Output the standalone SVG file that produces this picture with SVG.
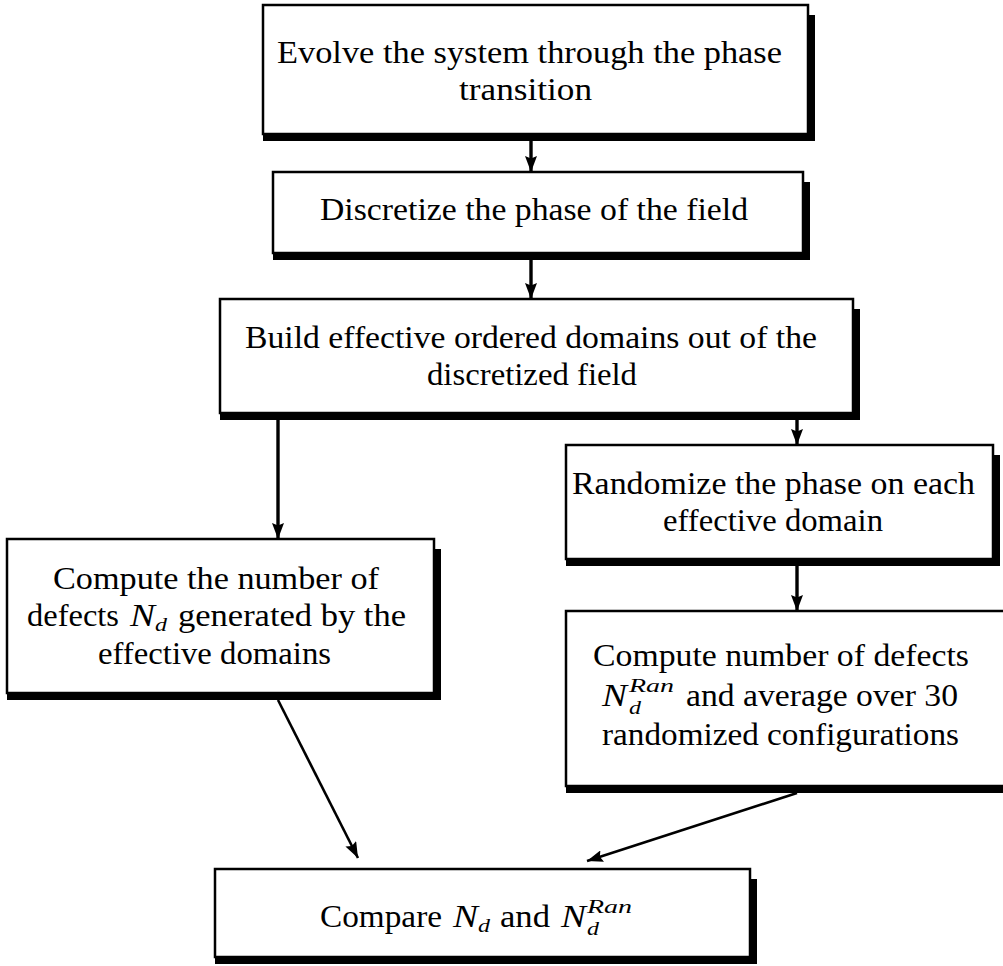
<svg xmlns="http://www.w3.org/2000/svg" width="1003" height="966" viewBox="0 0 1003 966">
<style>
.box{fill:#fff;stroke:#000;stroke-width:2.5}
.sh{fill:#000}
.t{font-family:"Liberation Serif","Times New Roman",serif;font-size:31px;fill:#000}
.m{font-style:italic}
.s{font-size:19.5px;font-style:italic}
.conn line{stroke:#000;fill:none;marker-end:url(#ah)}
.v{stroke-width:3.4}
.d{stroke-width:2.6}
</style>
<defs>
<marker id="ah" markerUnits="userSpaceOnUse" markerWidth="16" markerHeight="12" refX="16" refY="6" orient="auto" viewBox="0 0 16 12">
<path d="M0,0 L16,6 L0,12 L2.5,6 z" fill="#000"/>
</marker>
</defs>
<rect x="0" y="0" width="1003" height="966" fill="#fff"/>
<g id="connectors" class="conn">
<line class="v" x1="531" y1="141" x2="531" y2="172"/>
<line class="v" x1="531" y1="260" x2="531" y2="299"/>
<line class="v" x1="278" y1="420" x2="278" y2="539"/>
<line class="v" x1="797" y1="420" x2="797" y2="445"/>
<line class="v" x1="797" y1="566" x2="797" y2="611"/>
<line class="d" x1="278" y1="700" x2="358" y2="858"/>
<line class="d" x1="797" y1="793" x2="587" y2="861"/>
</g>
<g id="n1">
<rect class="sh" x="263" y="15" width="552" height="126"/>
<rect class="box" x="263" y="5" width="545" height="129"/>
<text class="t" x="277" y="63" textLength="505" lengthAdjust="spacingAndGlyphs">Evolve the system through the phase</text>
<text class="t" x="459" y="100" textLength="133" lengthAdjust="spacingAndGlyphs">transition</text>
</g>
<g id="n2">
<rect class="sh" x="273" y="182" width="537" height="78"/>
<rect class="box" x="273" y="172" width="530" height="81"/>
<text class="t" x="320" y="220" textLength="428" lengthAdjust="spacingAndGlyphs">Discretize the phase of the field</text>
</g>
<g id="n3">
<rect class="sh" x="220" y="309" width="640" height="111"/>
<rect class="box" x="220" y="299" width="633" height="114"/>
<text class="t" x="245" y="348" textLength="572" lengthAdjust="spacingAndGlyphs">Build effective ordered domains out of the</text>
<text class="t" x="427" y="385" textLength="210" lengthAdjust="spacingAndGlyphs">discretized field</text>
</g>
<g id="n4">
<rect class="sh" x="7" y="549" width="434" height="151"/>
<rect class="box" x="7" y="539" width="427" height="154"/>
<text class="t" x="53" y="589" textLength="326" lengthAdjust="spacingAndGlyphs">Compute the number of</text>
<text class="t" x="27" y="626" textLength="92" lengthAdjust="spacingAndGlyphs">defects</text>
<text class="t m" x="130" y="626" textLength="25" lengthAdjust="spacingAndGlyphs">N</text>
<text class="t s" x="155" y="631" textLength="12" lengthAdjust="spacingAndGlyphs">d</text>
<text class="t" x="178" y="626" textLength="228" lengthAdjust="spacingAndGlyphs">generated by the</text>
<text class="t" x="98" y="664" textLength="233" lengthAdjust="spacingAndGlyphs">effective domains</text>
</g>
<g id="n5">
<rect class="sh" x="566" y="455" width="434" height="111"/>
<rect class="box" x="566" y="445" width="427" height="114"/>
<text class="t" x="572" y="494" textLength="403" lengthAdjust="spacingAndGlyphs">Randomize the phase on each</text>
<text class="t" x="663" y="531" textLength="220" lengthAdjust="spacingAndGlyphs">effective domain</text>
</g>
<g id="n6">
<rect class="sh" x="566" y="621" width="452" height="172"/>
<rect class="box" x="566" y="611" width="445" height="175"/>
<text class="t" x="593" y="666" textLength="376" lengthAdjust="spacingAndGlyphs">Compute number of defects</text>
<text class="t m" x="602" y="706" textLength="25" lengthAdjust="spacingAndGlyphs">N</text>
<text class="t s" x="629" y="692" textLength="45" lengthAdjust="spacingAndGlyphs">Ran</text>
<text class="t s" x="629" y="714" textLength="12" lengthAdjust="spacingAndGlyphs">d</text>
<text class="t" x="686" y="706" textLength="272" lengthAdjust="spacingAndGlyphs">and average over 30</text>
<text class="t" x="602" y="745" textLength="357" lengthAdjust="spacingAndGlyphs">randomized configurations</text>
</g>
<g id="n7">
<rect class="sh" x="215" y="879" width="542" height="85"/>
<rect class="box" x="215" y="869" width="535" height="88"/>
<text class="t" x="320" y="927" textLength="122" lengthAdjust="spacingAndGlyphs">Compare</text>
<text class="t m" x="453" y="927" textLength="25" lengthAdjust="spacingAndGlyphs">N</text>
<text class="t s" x="478" y="932" textLength="12" lengthAdjust="spacingAndGlyphs">d</text>
<text class="t" x="500" y="927" textLength="50" lengthAdjust="spacingAndGlyphs">and</text>
<text class="t m" x="561" y="927" textLength="25" lengthAdjust="spacingAndGlyphs">N</text>
<text class="t s" x="587" y="913" textLength="45" lengthAdjust="spacingAndGlyphs">Ran</text>
<text class="t s" x="587" y="935" textLength="12" lengthAdjust="spacingAndGlyphs">d</text>
</g>
</svg>
